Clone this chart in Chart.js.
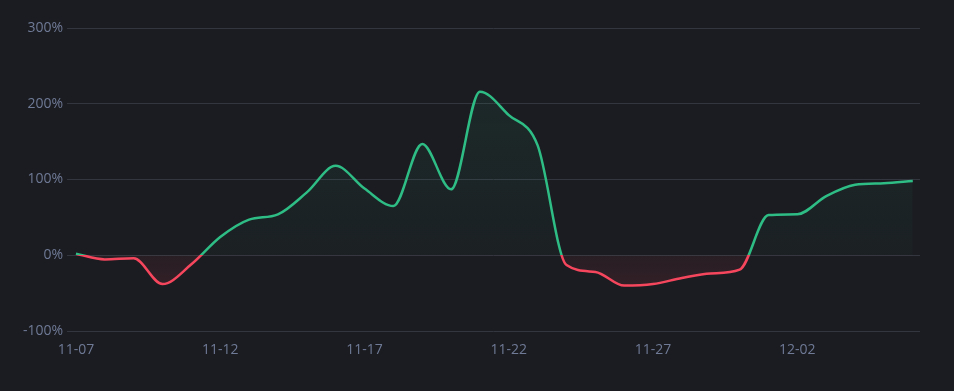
<!DOCTYPE html>
<html><head><meta charset="utf-8">
<script src="https://cdn.jsdelivr.net/npm/chart.js@4"></script>
<style>html,body{margin:0;padding:0;background:#1b1c21;}#wrap{width:954px;height:391px;}</style>
</head><body><div id="wrap"><canvas id="c" width="954" height="391"></canvas></div>
<script>
const dates = ['11-07','11-08','11-09','11-10','11-11','11-12','11-13','11-14','11-15','11-16','11-17','11-18','11-19','11-20','11-21','11-22','11-23','11-24','11-25','11-26','11-27','11-28','11-29','11-30','12-01','12-02','12-03','12-04','12-05','12-06'];
const returns = [2,-5.5,-4,-38,-12,24,47,54,83,118,88,65,147,87,216,185,145,-13,-22,-40,-38,-30,-24,-19,53,54,78,93,95,98];
const yTicks = [-100,0,100,200,300];
const xTickIdx = [0,5,10,15,20,25];

const GREEN = '#2ebd85', RED = '#f6465d';
function splitGradient(ctx, colAbove, colBelow) {
  const chart = ctx.chart, area = chart.chartArea;
  if (!area) return colAbove;
  const y0 = chart.scales.y.getPixelForValue(0);
  const g = chart.ctx.createLinearGradient(0, area.top, 0, area.bottom);
  let s = (y0 - area.top) / (area.bottom - area.top);
  s = Math.min(Math.max(s, 0), 1);
  g.addColorStop(0, colAbove); g.addColorStop(s, colAbove);
  g.addColorStop(s, colBelow); g.addColorStop(1, colBelow);
  return g;
}
function fillGrad(ctx, above) {
  const chart = ctx.chart, area = chart.chartArea;
  if (!area) return 'transparent';
  const y0 = chart.scales.y.getPixelForValue(0);
  if (above) {
    const g = chart.ctx.createLinearGradient(0, area.top, 0, y0);
    g.addColorStop(0, 'rgba(46,189,133,0.10)');
    g.addColorStop(1, 'rgba(46,189,133,0.03)');
    return g;
  } else {
    const g = chart.ctx.createLinearGradient(0, y0, 0, area.bottom);
    g.addColorStop(0, 'rgba(246,70,93,0.06)');
    g.addColorStop(0.5, 'rgba(246,70,93,0.12)');
    g.addColorStop(1, 'rgba(246,70,93,0.12)');
    return g;
  }
}

new Chart(document.getElementById('c'), {
  type: 'line',
  data: {
    datasets: [{
      data: returns.map((v, i) => ({x: i, y: v})),
      borderColor: ctx => splitGradient(ctx, GREEN, RED),
      borderWidth: 2.5,
      pointRadius: 0,
      cubicInterpolationMode: 'monotone',
      fill: {target: 'origin', above: ctx => fillGrad(ctx, true), below: ctx => fillGrad(ctx, false)}
    }]
  },
  options: {
    responsive: false,
    animation: false,
    devicePixelRatio: 1,
    layout: {padding: {top: 28, right: 34, bottom: 30, left: 0}},
    plugins: {legend: {display: false}, tooltip: {enabled: false}},
    scales: {
      x: {
        type: 'linear', min: -0.31, max: 29.25,
        afterBuildTicks: s => { s.ticks = xTickIdx.map(v => ({value: v})); },
        afterFit: s => { s.height = 30; },
        grid: {display: false, drawTicks: false}, border: {display: false},
        ticks: {color: '#6f7a96', font: {family: 'Open Sans', size: 14}, maxRotation: 0, autoSkip: false, padding: 11,
          callback: v => dates[v]}
      },
      y: {
        min: -100, max: 300,
        afterBuildTicks: s => { s.ticks = yTicks.map(v => ({value: v})); },
        afterFit: s => { s.width = 67; },
        grid: {color: '#33363f', drawTicks: false, lineWidth: 1},
        border: {display: false},
        ticks: {color: '#6f7a96', font: {family: 'Open Sans', size: 14}, padding: 4, callback: v => v + '%'}
      }
    }
  }
});
</script></body></html>
